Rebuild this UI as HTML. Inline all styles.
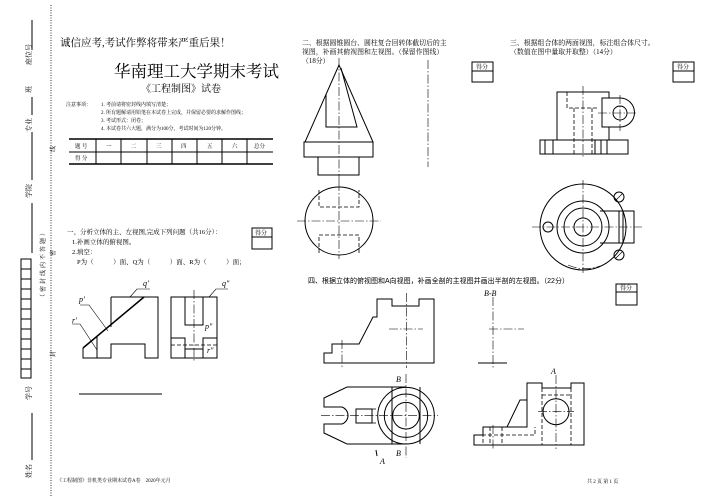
<!DOCTYPE html>
<html><head><meta charset="utf-8"><style>
html,body{margin:0;padding:0;background:#fff;}
svg{display:block;}
text{font-family:"Liberation Serif","Noto Serif CJK SC","Noto Sans CJK SC",serif;fill:#000;}
.s{font-family:"Liberation Sans","Noto Sans CJK SC",sans-serif;}
.l{stroke:#000;stroke-width:1;fill:none;}
.t{stroke:#000;stroke-width:0.6;fill:none;}
.d{stroke:#000;stroke-width:0.8;fill:none;stroke-dasharray:4 2;}
.c{stroke:#000;stroke-width:0.6;fill:none;stroke-dasharray:9 2 1.5 2;}
</style></head><body>
<svg width="711" height="503" viewBox="0 0 711 503" xmlns="http://www.w3.org/2000/svg">
<line x1="51" y1="5" x2="51" y2="497" stroke="#000" stroke-width="0.8" stroke-dasharray="1 1.5"/>
<g class="l" stroke-width="1.2">
<line x1="32" y1="20" x2="32" y2="50"/><line x1="32" y1="97" x2="32" y2="115"/>
<line x1="32" y1="132" x2="32" y2="180"/><line x1="32" y1="203" x2="32" y2="253"/>
<line x1="32" y1="413" x2="32" y2="460"/>
</g>
<g font-size="7">
<text transform="translate(31,65) rotate(-90)">座位号</text>
<text transform="translate(31,93) rotate(-90)">班</text>
<text transform="translate(31,132) rotate(-90)">专业</text>
<text transform="translate(31,198) rotate(-90)">学院</text>
<text transform="translate(31,400) rotate(-90)">学号</text>
<text transform="translate(31,478) rotate(-90)">姓名</text>
<text transform="translate(55,152) rotate(-90)" font-size="6">线</text>
<text transform="translate(55,256) rotate(-90)" font-size="6">密</text>
<text transform="translate(55,357) rotate(-90)" font-size="6">封</text>
<text transform="translate(45,300) rotate(-90)" font-size="6" letter-spacing="2">（密封线内不答题）</text>
</g>
<g class="l">
<rect x="21" y="259" width="10" height="10"/><rect x="21" y="269" width="10" height="10"/><rect x="21" y="279" width="10" height="10"/><rect x="21" y="289" width="10" height="10"/><rect x="21" y="299" width="10" height="10"/><rect x="21" y="309" width="10" height="10"/><rect x="21" y="319" width="10" height="10"/><rect x="21" y="329" width="10" height="10"/><rect x="21" y="339" width="10" height="10"/><rect x="21" y="349" width="10" height="10"/><rect x="21" y="359" width="10" height="10"/><rect x="21" y="369" width="10" height="9"/>
</g>
<text x="60" y="46" font-size="10.5">诚信应考,考试作弊将带来严重后果！</text>
<text x="114" y="77" font-size="16.5">华南理工大学期末考试</text>
<text x="141" y="92" font-size="10">《工程制图》试卷</text>
<g font-size="5">
<text x="66" y="106">注意事项：</text>
<text x="101" y="106">1. 考前请将密封线内填写清楚；</text>
<text x="101" y="114">2. 所有题解请用铅笔在本试卷上完成，并保留必要的求解作图线；</text>
<text x="101" y="122">3. 考试形式：闭卷；</text>
<text x="101" y="130">4. 本试卷共六大题，满分为100分，考试时间为120分钟。</text>
</g>
<g class="l">
<line x1="69" y1="139" x2="273" y2="139" stroke-width="1.4"/>
<line x1="69" y1="152" x2="273" y2="152"/>
<line x1="69" y1="164" x2="273" y2="164" stroke-width="1.4"/>
<line x1="96" y1="139" x2="96" y2="164"/><line x1="121" y1="139" x2="121" y2="164"/><line x1="147" y1="139" x2="147" y2="164"/><line x1="172" y1="139" x2="172" y2="164"/><line x1="197" y1="139" x2="197" y2="164"/><line x1="222" y1="139" x2="222" y2="164"/><line x1="247" y1="139" x2="247" y2="164"/>
</g>
<g font-size="5.5">
<text x="75" y="148">题 号</text><text x="106" y="148">一</text><text x="131" y="148">二</text><text x="156" y="148">三</text><text x="181" y="148">四</text><text x="207" y="148">五</text><text x="232" y="148">六</text><text x="254" y="148">总分</text>
<text x="75" y="160">得 分</text>
</g>
<text x="67" y="234" font-size="6.5">一、分析立体的主、左视图,完成下列问题（共16分）：</text>
<text x="72" y="244" font-size="6.5">1.补画立体的俯视图。</text>
<text x="72" y="254" font-size="6.5">2.填空：</text>
<text x="77" y="264" font-size="6.5">P为（　　　）面、Q为（　　　）面、R为（　　　）面；</text>
<g class="l"><rect x="252" y="228" width="20" height="21"/><line x1="252" y1="237" x2="272" y2="237"/></g>
<text x="255" y="235" font-size="6">得分</text>
<g class="l">
<path d="M111,297 H158 V358 H145 V344 H111 V358 H83 V348"/>
<line x1="111" y1="297" x2="111" y2="327"/>
<line x1="97" y1="337" x2="97" y2="358"/>
<line x1="83" y1="348" x2="144" y2="297" stroke-width="1.5"/>
<rect x="171" y="297" width="46" height="61"/>
<path d="M185,297 V325 H203 V297"/>
<path d="M171,338 H185 V358 M203,358 V338 H217 M185,349 H203"/>
<line x1="79" y1="394" x2="162" y2="394"/>
</g>
<line class="d" x1="171" y1="345" x2="217" y2="345"/>
<line class="c" x1="194" y1="290" x2="194" y2="362"/>
<g class="t">
<path d="M130,297 L137,289 H150"/><path d="M108,331 L89,305 H80"/><path d="M97,350 L80,324 H72"/><path d="M209,297 L216,289 H228"/>
</g>
<g font-size="8" font-style="italic" class="s">
<text x="143" y="286">q′</text><text x="79" y="302">p′</text><text x="72" y="323">r′</text>
<text x="222" y="286">q″</text><text x="205" y="329">p″</text><text x="207" y="353">r″</text>
</g>
<text x="57" y="482" font-size="5">《工程制图》非机类专业期末试卷A卷　2020年元月</text>
<g font-size="6.9" class="s">
<text x="302" y="45">二、根据圆锥圆台、圆柱复合回转体截切后的主</text>
<text x="302" y="54">视图，补画其俯视图和左视图。（保留作图线）</text>
<text x="302" y="63">（18分）</text>
<text x="510" y="45">三、根据组合体的两面视图，标注组合体尺寸。</text>
<text x="510" y="54">（数值在图中量取并取整）（14分）</text>
</g>
<g class="l"><rect x="472" y="62" width="21" height="20"/><line x1="472" y1="71" x2="493" y2="71"/>
<rect x="673" y="62" width="21" height="20"/><line x1="673" y1="71" x2="694" y2="71"/></g>
<text x="476" y="69" font-size="6">得分</text><text x="677" y="69" font-size="6">得分</text>
<g class="l">
<path d="M305,142 L339,65 L373,142"/>
<rect x="304" y="142" width="69" height="15"/>
<rect x="318" y="157" width="41" height="18"/>
<path d="M326,94 V127 H357 L341,68"/>
<line x1="326" y1="94" x2="339" y2="65" stroke-width="0.5"/>
<circle cx="339" cy="221" r="34"/>
</g>
<line class="c" x1="339" y1="58" x2="339" y2="182"/>
<line class="c" x1="428" y1="60" x2="428" y2="167"/>
<line class="c" x1="297" y1="221" x2="381" y2="221"/>
<line class="c" x1="339" y1="182" x2="339" y2="259"/>
<path class="d" d="M319,190 V207 H359 V190 M319,253 V235 H359 V253"/>
<g class="l">
<rect x="540" y="140" width="88" height="14"/>
<path d="M557,140 V92 H609 V98 M609,127 V140"/>
<path d="M602,98 H620 A14.5,14.5 0 0 1 620,127 H602 Z"/>
<circle cx="620" cy="113" r="7"/>
<line x1="545" y1="140" x2="545" y2="154"/><line x1="553" y1="140" x2="553" y2="154"/><line x1="595" y1="140" x2="595" y2="154"/><line x1="601" y1="140" x2="601" y2="154"/><line x1="607" y1="140" x2="607" y2="154"/>
<circle cx="583" cy="227" r="43"/><circle cx="583" cy="227" r="26"/><circle cx="583" cy="227" r="19"/><circle cx="583" cy="227" r="9"/>
<path d="M600,211 H634 V243 H600"/>
<line x1="619" y1="211" x2="619" y2="243"/><line x1="623" y1="211" x2="623" y2="243"/>
<circle cx="619" cy="197" r="5"/><circle cx="548" cy="227" r="5"/><circle cx="619" cy="255" r="5"/>
<path d="M616,200 L622,194 M616,258 L622,252" stroke-width="0.7"/>
</g>
<path class="d" d="M567,92 V108 H598 M574,108 V154 M592,108 V154"/>
<line class="c" x1="583" y1="86" x2="583" y2="158"/>
<line class="c" x1="598" y1="113" x2="638" y2="113"/>
<line class="c" x1="620" y1="95" x2="620" y2="131"/>
<line class="c" x1="532" y1="227" x2="642" y2="227"/>
<line class="c" x1="583" y1="180" x2="583" y2="273"/>
<path class="c" d="M568,265 A42,42 0 0 0 600,266"/>
<text x="308" y="283" font-size="7" class="s">四、根据立体的俯视图和A向视图，补画全剖的主视图并画出半剖的左视图。（22分）</text>
<g class="l"><rect x="616" y="284" width="21" height="21"/><line x1="616" y1="292" x2="637" y2="292"/></g>
<text x="620" y="290" font-size="6">得分</text>
<g class="l">
<path d="M324,363 V353 H332 V344 H359 L373,317 H377 V299 H392 V306 H419 V299 H434 V363 Z"/>
<line x1="478" y1="363" x2="507" y2="363"/>
<path d="M406,387 H347 L324,398 V407 H342 A9,9 0 0 1 342,424 H324 V433 L347,444 H406"/>
<circle cx="406" cy="415.7" r="28.3"/><circle cx="406" cy="415.7" r="21.7"/><circle cx="406" cy="415.7" r="13.3"/>
<rect x="356" y="409" width="16" height="14"/>
<line x1="392" y1="387" x2="392" y2="444"/><line x1="420" y1="387" x2="420" y2="444"/>
<path d="M474,445 V435 H483 V427 H527 V383 H542 V388 H571 V383 H584 V445 Z"/>
<path d="M507,427 L520,400 H527"/>
<circle cx="556" cy="411.7" r="13"/>
<line x1="376" y1="450" x2="377" y2="456"/>
</g>
<path class="d" d="M542,388 V395 M571,388 V395 M542,395 H571 M542,395 V445 M571,395 V445 M483,427 V445 M490,427 V445 M502,427 V445 M482,435 H535 V427 M372,409 H378 M372,423 H378"/>
<line class="c" x1="406.7" y1="293" x2="406.7" y2="368"/>
<line class="c" x1="389" y1="329" x2="423" y2="329"/>
<line class="c" x1="342" y1="340" x2="342" y2="368"/>
<line class="c" x1="493" y1="297" x2="493" y2="368"/>
<line class="c" x1="489" y1="329" x2="524" y2="329"/>
<line class="c" x1="321" y1="415.7" x2="438" y2="415.7"/>
<line class="c" x1="406" y1="374" x2="406" y2="458"/>
<line class="c" x1="556" y1="375" x2="556" y2="449"/>
<line class="c" x1="538" y1="411.7" x2="574" y2="411.7"/>
<line class="c" x1="493" y1="425" x2="493" y2="449"/>
<g font-size="8" font-style="italic" class="s">
<text x="484" y="296">B-B</text>
<text x="396" y="382">B</text><text x="396" y="456">B</text>
<text x="380" y="464">A</text><text x="551" y="374">A</text>
</g>
<text x="587" y="483" font-size="5">共 2 页 第 1 页</text>
</svg>
</body></html>
